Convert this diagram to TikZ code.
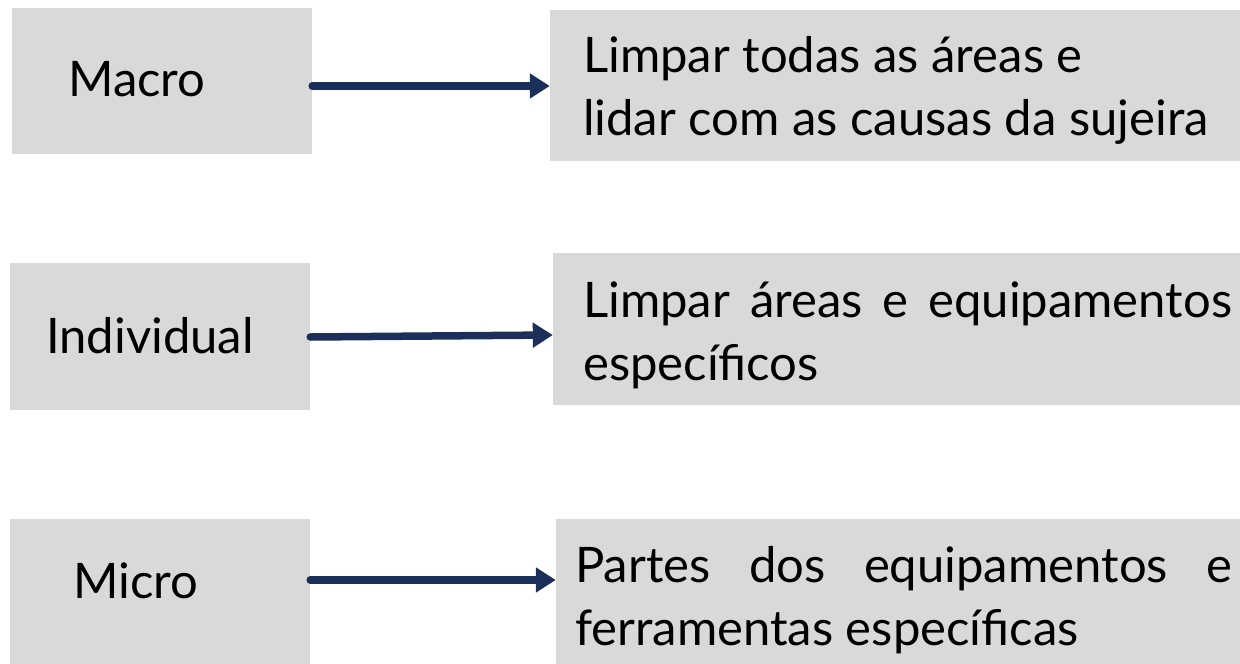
\documentclass[tikz,border=0pt]{standalone}
\usepackage{fontspec}
\setmainfont{Lato}
\usepackage{tikz}
\usetikzlibrary{arrows.meta}
\definecolor{boxgray}{RGB}{217,217,217}
\definecolor{navy}{RGB}{28,46,90}

\begin{document}
\begin{tikzpicture}[x=1pt,y=-1pt,
	box/.style={fill=boxgray,inner sep=0pt},
	txt/.style={inner sep=0pt,anchor=north west,font=\fontsize{49}{63}\selectfont},
	arr/.style={navy,line width=7.5pt,line cap=round,-{Triangle[length=20pt,width=24pt]}}]
\useasboundingbox (0,0) rectangle (1240,664);
\node [box,minimum width=300pt,minimum height=146pt] (macro) at (162,81) {};
\node [box,minimum width=300pt,minimum height=147pt] (individual) at (160,336.5) {};
\node [box,minimum width=300pt,minimum height=145pt] (micro) at (160,591.5) {};
\node [box,minimum width=690pt,minimum height=151pt] (a) at (895,85.5) {};
\node [box,minimum width=687pt,minimum height=152pt] (b) at (896.5,329) {};
\node [box,minimum width=684pt,minimum height=145pt] (c) at (898,591.5) {};
\node [txt] (tmacro) at (68,61) {Macro};
\node [txt] (tindividual) at (46,317) {Individual};
\node [txt] (tmicro) at (73,563) {Micro};
\node [txt,align=left] (ta) at (583,36) {Limpar todas as áreas e\\lidar com as causas da sujeira};
\node [txt,text width=649pt,align=justify] (tb) at (583,282) {Limpar áreas e equipamentos\linebreak específicos};
\node [txt,text width=657pt,align=justify] (tc) at (575,546) {Partes dos equipamentos e\linebreak ferramentas específicas};
\draw [arr] ([yshift=-5pt]macro.east) -- ([yshift=-0.5pt]a.west);
\draw [arr] ([yshift=-0.5pt]individual.east) -- ([yshift=-6pt]b.west);
\draw [arr] ([yshift=11.5pt]micro.east) -- ([yshift=11.5pt]c.west);
\end{tikzpicture}
\end{document}
